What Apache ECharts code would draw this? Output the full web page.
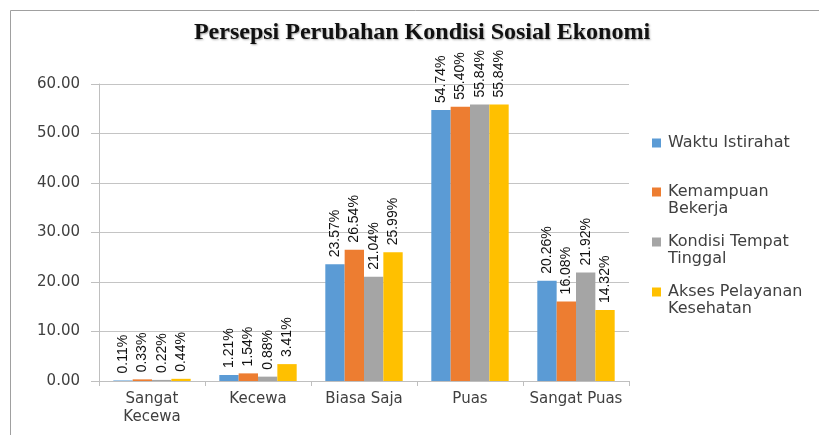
<!DOCTYPE html>
<html><head><meta charset="utf-8">
<script src="https://cdn.jsdelivr.net/npm/echarts@6/dist/echarts.min.js"></script>
<style>html,body{margin:0;padding:0;background:#fff}#c{width:819px;height:435px}</style>
</head><body><div id="c"></div>
<script>
const categories = ['Sangat\nKecewa', 'Kecewa', 'Biasa Saja', 'Puas', 'Sangat Puas'];
const seriesNames = ['Waktu Istirahat', 'Kemampuan Bekerja', 'Kondisi Tempat Tinggal', 'Akses Pelayanan Kesehatan'];
const legendLabels = ['Waktu Istirahat', 'Kemampuan\nBekerja', 'Kondisi Tempat\nTinggal', 'Akses Pelayanan\nKesehatan'];
const waktuIstirahat = [0.11, 1.21, 23.57, 54.74, 20.26];
const kemampuanBekerja = [0.33, 1.54, 26.54, 55.40, 16.08];
const kondisiTempatTinggal = [0.22, 0.88, 21.04, 55.84, 21.92];
const aksesPelayanan = [0.44, 3.41, 25.99, 55.84, 14.32];
const yTicks = [0, 10, 20, 30, 40, 50, 60];

const values = [waktuIstirahat, kemampuanBekerja, kondisiTempatTinggal, aksesPelayanan];
const colors = ['#5B9BD5', '#ED7D31', '#A5A5A5', '#FFC000'];
const legendTops = [143, 192, 242, 292];
const axisFont = 'DejaVu Sans';
const labelFont = "'Liberation Sans', Arial, sans-serif";

const chart = echarts.init(document.getElementById('c'), null, {renderer: 'canvas'});
const legends = seriesNames.map((n, i) => {
  const twoLine = legendLabels[i].indexOf('\n') >= 0;
  return {
    left: 652,
    top: twoLine ? legendTops[i] - 25.5 : legendTops[i] - 8.5,
    orient: 'vertical',
    itemWidth: 9, itemHeight: 9,
    itemGap: 0,
    icon: 'rect',
    selectedMode: false,
    padding: 0,
    data: [n],
    formatter: () => twoLine ? '\n' + legendLabels[i] : legendLabels[i],
    textStyle: {fontFamily: axisFont, fontSize: 16, color: '#404040', lineHeight: 17, padding: [0, 0, 0, 2]}
  };
});

chart.setOption({
  animation: false,
  backgroundColor: '#fff',
  title: {
    text: 'Persepsi Perubahan Kondisi Sosial Ekonomi',
    left: 417, top: 16, textAlign: 'center',
    textStyle: {fontFamily: 'Liberation Serif', fontWeight: 'bold', fontSize: 24, color: '#111',
      textShadowColor: 'rgba(0,0,0,0.35)', textShadowBlur: 2, textShadowOffsetX: 1, textShadowOffsetY: 1}
  },
  graphic: [{type: 'rect', shape: {x: 10.5, y: 10.5, width: 900, height: 500}, style: {fill: 'none', stroke: '#a0a0a0', lineWidth: 1}, silent: true}],
  legend: legends,
  grid: {left: 99, right: 190, top: 84, bottom: 54},
  xAxis: {
    type: 'category', data: categories,
    axisLine: {lineStyle: {color: '#bfbfbf'}},
    axisTick: {show: true, length: 5, lineStyle: {color: '#bfbfbf'}},
    axisLabel: {interval: 0, fontFamily: axisFont, fontSize: 15, color: '#404040', margin: 9, lineHeight: 18}
  },
  yAxis: {
    type: 'value', min: yTicks[0], max: yTicks[yTicks.length - 1], interval: 10,
    axisLine: {show: true, lineStyle: {color: '#bfbfbf'}},
    axisTick: {show: true, length: 8, lineStyle: {color: '#bfbfbf'}},
    axisLabel: {fontFamily: axisFont, fontSize: 15, color: '#404040', margin: 19, formatter: v => v.toFixed(2)},
    splitLine: {lineStyle: {color: '#c4c4c4'}}
  },
  series: seriesNames.map((n, i) => ({
    name: n, type: 'bar', data: values[i],
    barGap: '0%', barCategoryGap: '27%',
    itemStyle: {color: colors[i]},
    label: {
      show: true, position: 'top', rotate: 90, align: 'left', verticalAlign: 'middle', distance: 7,
      fontFamily: labelFont, fontSize: 14, color: '#111',
      formatter: p => p.value.toFixed(2) + '%'
    }
  }))
});
</script></body></html>
